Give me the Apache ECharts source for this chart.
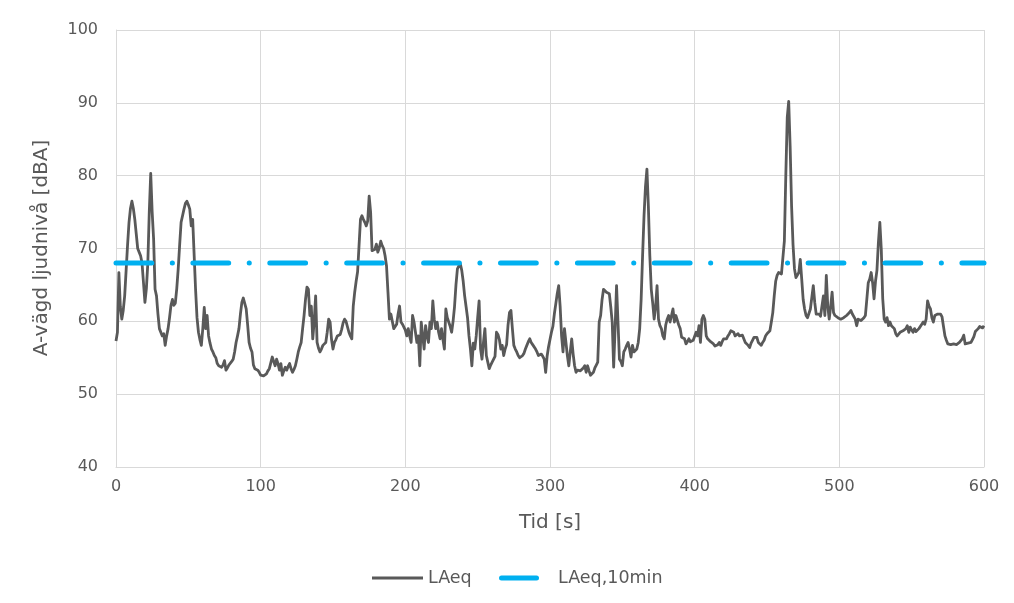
<!DOCTYPE html>
<html>
<head>
<meta charset="utf-8">
<title>LAeq</title>
<script src="https://cdn.jsdelivr.net/npm/echarts@6/dist/echarts.min.js"></script>
<style>
  html, body { margin: 0; padding: 0; background: #ffffff; }
  #chart { width: 1014px; height: 603px; }
</style>
</head>
<body>
<div id="chart"></div>
<script>
// Measurement start time [s]; LAeq is sampled once per second
const timeStart = 0;

// Short-term A-weighted level, 1 s values [dBA]
const laeq = [
  57.3, 58.5, 66.7, 62.0, 60.3, 61.5, 63.5, 67.0, 70.5, 73.6,
  75.5, 76.5, 75.5, 74.0, 72.0, 70.0, 69.5, 69.0, 68.0, 65.3,
  62.6, 64.5, 68.0, 75.0, 80.3, 75.0, 71.3, 64.4, 63.5, 61.0,
  59.0, 58.8, 58.0, 58.3, 56.7, 58.0, 59.0, 60.5, 62.2, 63.0,
  62.2, 62.5, 64.5, 67.2, 70.5, 73.6, 74.5, 75.4, 76.2, 76.5,
  76.0, 75.4, 73.1, 74.0, 74.0, 64.4, 60.5, 58.5, 57.5, 56.7,
  59.0, 61.9, 59.0, 60.8, 58.0, 57.0, 56.2, 55.8, 55.3, 55.0,
  54.2, 53.9, 53.8, 53.7, 54.0, 54.6, 53.3, 53.6, 54.0, 54.2,
  54.5, 54.8, 55.8, 57.1, 58.0, 59.0, 61.0, 62.6, 63.2, 63.0,
  61.7, 59.5, 57.1, 56.3, 55.8, 54.0, 53.5, 53.4, 53.3, 53.0,
  52.6, 52.5, 52.5, 52.3, 52.8, 53.2, 53.5, 54.3, 55.1, 54.5,
  53.9, 54.8, 54.2, 53.3, 54.2, 52.6, 53.2, 53.7, 53.3, 53.8,
  54.2, 53.5, 53.0, 53.4, 53.9, 54.8, 55.8, 56.5, 57.1, 59.0,
  60.8, 63.0, 64.7, 64.4, 60.8, 62.1, 57.6, 60.0, 63.5, 57.1,
  56.3, 55.8, 56.2, 56.7, 56.9, 57.1, 58.5, 60.3, 59.9, 57.5,
  56.2, 57.1, 57.5, 58.0, 58.0, 58.2, 58.9, 59.8, 60.3, 60.0,
  59.9, 58.5, 58.0, 57.6, 62.1, 64.0, 65.5, 66.8, 70.4, 74.0,
  74.5, 74.0, 73.6, 73.1, 73.8, 77.2, 75.0, 69.7, 69.8, 69.9,
  70.6, 69.5, 70.1, 71.0, 70.4, 70.0, 69.0, 67.6, 64.0, 60.3,
  61.0, 60.8, 59.0, 59.2, 59.6, 61.0, 62.1, 59.9, 59.6, 59.4,
  58.8, 58.0, 59.0, 58.0, 57.1, 60.8, 59.9, 58.5, 57.1, 58.0,
  53.9, 59.9, 58.0, 56.2, 59.4, 58.0, 57.1, 59.9, 59.0, 62.8,
  60.3, 59.0, 59.9, 58.5, 57.6, 59.0, 57.5, 56.2, 61.7, 60.5,
  59.9, 59.3, 58.5, 60.0, 62.0, 65.0, 67.2, 67.6, 67.9, 67.0,
  65.5, 63.5, 62.0, 60.5, 58.0, 56.2, 53.9, 57.0, 56.2, 58.0,
  60.5, 62.8, 56.2, 54.8, 57.1, 59.0, 55.3, 54.4, 53.5, 54.0,
  54.4, 54.6, 55.2, 58.5, 58.2, 57.5, 56.2, 56.7, 55.3, 56.2,
  56.8, 59.5, 61.2, 61.5, 59.0, 56.7, 56.2, 55.8, 55.3, 55.0,
  54.8, 55.3, 55.6, 56.2, 56.7, 57.2, 57.6, 57.1, 56.8, 56.7,
  56.2, 55.8, 55.3, 55.3, 55.5, 55.2, 54.8, 53.0, 55.2, 56.5,
  57.5, 58.5, 59.3, 61.0, 62.4, 63.8, 64.9, 62.1, 58.0, 55.8,
  59.0, 59.0, 55.3, 53.9, 55.8, 57.6, 55.5, 53.9, 53.0, 53.3,
  53.5, 53.2, 53.0, 53.6, 53.9, 53.0, 53.9, 53.2, 52.6, 52.8,
  53.0, 53.6, 54.0, 54.4, 59.9, 60.8, 63.0, 64.4, 64.2, 64.0,
  64.0, 63.8, 62.0, 59.9, 53.7, 59.0, 64.9, 59.9, 54.8, 54.5,
  53.9, 55.8, 56.2, 56.7, 57.1, 56.2, 55.1, 56.7, 55.8, 56.0,
  56.2, 57.1, 59.0, 63.0, 69.0, 74.5, 78.5, 80.9, 75.8, 69.0,
  64.4, 62.5, 60.3, 62.0, 64.9, 60.3, 59.4, 59.0, 58.0, 57.6,
  59.5, 60.3, 60.8, 59.9, 59.9, 61.7, 59.9, 60.8, 60.8, 59.5,
  59.0, 57.8, 57.7, 57.6, 56.9, 57.2, 57.6, 57.2, 57.1, 57.4,
  57.5, 58.5, 58.0, 59.4, 57.1, 60.3, 60.8, 60.3, 58.0, 57.6,
  57.4, 57.2, 57.1, 56.9, 56.6, 56.4, 56.8, 57.1, 56.7, 57.2,
  57.6, 57.4, 57.6, 58.0, 58.3, 58.7, 58.5, 58.5, 58.0, 58.2,
  58.3, 58.0, 57.8, 58.1, 58.3, 57.1, 56.9, 56.7, 56.4, 57.0,
  57.4, 57.8, 58.0, 57.8, 57.1, 56.9, 56.7, 57.1, 57.4, 58.0,
  58.3, 58.5, 58.7, 59.9, 61.2, 63.5, 65.5, 66.3, 66.7, 66.7,
  66.5, 66.3, 71.0, 80.0, 88.0, 90.2, 84.0, 75.8, 70.5, 67.2,
  66.0, 66.0, 66.7, 68.5, 65.8, 63.0, 61.7, 60.8, 60.5, 60.3,
  61.7, 61.7, 64.9, 62.6, 61.0, 60.8, 61.0, 60.7, 60.5, 63.5,
  60.8, 66.3, 62.1, 60.3, 62.0, 64.0, 61.2, 60.8, 60.8, 60.5,
  60.4, 60.3, 60.4, 60.5, 60.7, 60.8, 61.0, 61.2, 61.5, 61.0,
  60.8, 60.3, 59.4, 60.3, 60.1, 60.1, 60.3, 60.5, 60.8, 63.0,
  65.3, 65.8, 66.7, 65.3, 63.1, 65.5, 67.0, 70.8, 73.6, 69.9,
  63.1, 60.3, 59.9, 60.5, 59.4, 59.9, 59.4, 59.2, 59.0, 58.3,
  58.0, 58.0, 58.5, 58.6, 58.7, 58.8, 59.0, 59.4, 58.5, 59.2,
  58.8, 58.5, 59.0, 58.6, 58.5, 59.0, 59.2, 59.6, 59.9, 59.6,
  60.3, 62.8, 62.1, 61.7, 60.5, 59.9, 60.8, 61.0, 61.0, 61.2,
  61.0, 60.6, 59.3, 58.0, 57.4, 56.9, 56.8, 56.8, 56.7, 56.9,
  56.9, 56.8, 57.0, 57.1, 57.3, 57.6, 58.1, 56.9, 56.8, 57.0,
  57.0, 57.1, 57.5, 57.9, 58.6, 58.4, 59.0, 59.3, 59.5, 59.1,
  59.4
];

// Equivalent level over the whole 10 minutes [dBA]
const laeq10min = 68.0;

// Axis ranges: [min, max, interval]
const xRange = [0, 600, 100];
const yRange = [40, 100, 10];

const textColor = '#595959';
const gridColor = '#D9D9D9';
const fontFamily = '"DejaVu Sans", Verdana, sans-serif';

const laeqData = laeq.map((v, i) => [timeStart + i, v]);
const laeq10Data = [[xRange[0], laeq10min], [xRange[1], laeq10min]];

const chart = echarts.init(document.getElementById('chart'), null, { renderer: 'canvas' });

chart.setOption({
  backgroundColor: '#ffffff',
  animation: false,
  textStyle: { fontFamily: fontFamily, color: textColor },
  grid: { left: 116, right: 30, top: 30, bottom: 136, containLabel: false, outerBoundsMode: 'none' },
  xAxis: {
    type: 'value',
    min: xRange[0], max: xRange[1], interval: xRange[2],
    name: 'Tid [s]',
    nameLocation: 'middle',
    nameGap: 46,
    nameTextStyle: { fontSize: 20, color: textColor, fontFamily: fontFamily },
    axisLine: { show: true, lineStyle: { color: gridColor, width: 1 } },
    axisTick: { show: false },
    axisLabel: { fontSize: 16, color: textColor, margin: 12, fontFamily: fontFamily },
    splitLine: { show: true, lineStyle: { color: gridColor, width: 1 } }
  },
  yAxis: {
    type: 'value',
    min: yRange[0], max: yRange[1], interval: yRange[2],
    axisLine: { show: true, lineStyle: { color: gridColor, width: 1 } },
    axisTick: { show: false },
    axisLabel: { fontSize: 16, color: textColor, margin: 18, fontFamily: fontFamily },
    splitLine: { show: true, lineStyle: { color: gridColor, width: 1 } }
  },
  legend: [
    {
      data: [{ name: 'LAeq', icon: 'path://M0,0H51V3H0Z' }],
      left: 367, top: 564,
      itemWidth: 51, itemHeight: 3,
      textStyle: { fontSize: 17.5, color: textColor, fontFamily: fontFamily }
    },
    {
      data: [{
        name: 'LAeq,10min',
        icon: 'path://M2.5,0H37.5A2.5,2.5,0,0,1,37.5,5H2.5A2.5,2.5,0,0,1,2.5,0Z M54,2.5L54,2.5'
      }],
      left: 494, top: 564,
      itemWidth: 54, itemHeight: 7,
      textStyle: { fontSize: 17.5, color: textColor, fontFamily: fontFamily }
    }
  ],
  graphic: [
    {
      type: 'text',
      x: 42, y: 248,
      rotation: Math.PI / 2,
      style: {
        text: 'A-vägd ljudnivå [dBA]',
        fill: textColor,
        font: '20px ' + fontFamily,
        align: 'center',
        verticalAlign: 'middle'
      }
    }
  ],
  series: [
    {
      name: 'LAeq',
      type: 'line',
      data: laeqData,
      symbol: 'none',
      smooth: false,
      z: 2,
      lineStyle: { color: '#595959', width: 2.8, join: 'round' },
      itemStyle: { color: '#595959' }
    },
    {
      name: 'LAeq,10min',
      type: 'line',
      data: laeq10Data,
      symbol: 'none',
      z: 3,
      lineStyle: { color: '#00B0F0', width: 5, type: [35.8, 20.5, 0.1, 20.5], cap: 'round' },
      itemStyle: { color: '#00B0F0' }
    }
  ]
});
</script>
</body>
</html>
